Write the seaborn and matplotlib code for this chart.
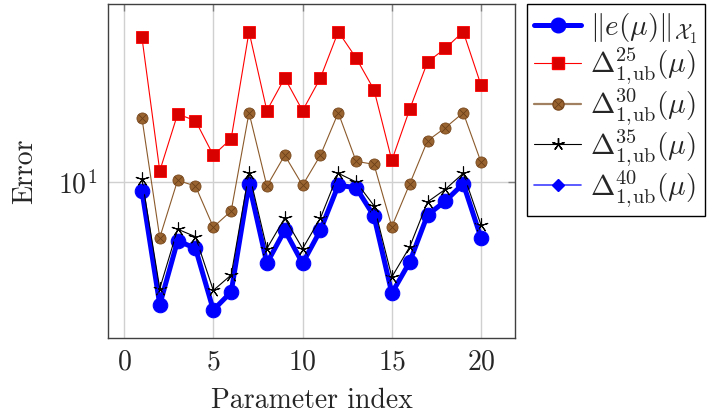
import numpy as np
import pandas as pd
import matplotlib
matplotlib.use("Agg")
import matplotlib.pyplot as plt
import seaborn as sns
from matplotlib.lines import Line2D
from matplotlib.ticker import NullLocator, FixedLocator

# ---------------- data ----------------
param_index = list(range(1, 21))
err_norm = [9.45, 4.52, 6.84, 6.51, 4.37, 4.91, 9.89, 5.91, 7.32, 5.91,
            7.32, 9.79, 9.64, 8.02, 4.87, 5.96, 8.08, 8.84, 9.89, 6.96]
delta_25 = [25.5, 10.74, 15.52, 14.87, 11.89, 13.23, 26.44, 15.86, 19.60, 15.86,
            19.60, 26.44, 22.30, 18.17, 11.50, 16.00, 21.73, 23.74, 26.44, 18.69]
delta_30 = [15.13, 6.98, 10.11, 9.74, 7.47, 8.29, 15.65, 9.74, 11.89, 9.79,
            11.89, 15.65, 11.43, 11.21, 7.49, 9.87, 13.06, 14.21, 15.65, 11.36]
delta_35 = [10.20, 5.02, 7.37, 7.02, 4.96, 5.48, 10.62, 6.50, 7.92, 6.50,
            7.92, 10.58, 10.00, 8.58, 5.41, 6.57, 8.79, 9.54, 10.58, 7.56]
delta_40 = [9.50, 4.54, 6.87, 6.54, 4.39, 4.93, 9.94, 5.94, 7.36, 5.94,
            7.36, 9.84, 9.69, 8.06, 4.89, 5.99, 8.12, 8.88, 9.94, 6.99]
x_ticks = [0, 5, 10, 15, 20]

labels = [r'$\|e(\mu)\|_{\mathcal{X}_1}$',
          r'$\Delta^{25}_{1,\!\mathrm{ub}}(\mu)$',
          r'$\Delta^{30}_{1,\!\mathrm{ub}}(\mu)$',
          r'$\Delta^{35}_{1,\!\mathrm{ub}}(\mu)$',
          r'$\Delta^{40}_{1,\!\mathrm{ub}}(\mu)$']

# ---------------- style ----------------
sns.set_style("white")
plt.rcParams['font.family'] = ['serif']
plt.rcParams['font.serif'] = ['cmr10', 'DejaVu Serif']
plt.rcParams['mathtext.fontset'] = 'cm'
plt.rcParams['axes.formatter.use_mathtext'] = True
plt.rcParams['axes.unicode_minus'] = False

fig = plt.figure(figsize=(7.12, 4.2), dpi=100)
ax = fig.add_axes([108/712, 1-338/420, (515-108)/712, (338-4)/420])

df = pd.DataFrame({'x': param_index, 'err': err_norm, 'd25': delta_25,
                   'd30': delta_30, 'd35': delta_35, 'd40': delta_40})

blue = '#0000FF'
red_line = '#FF0000'
red_fill = '#D90000'
brown_line = '#8B5A2B'
brown_fill = '#9A6430'

sns.lineplot(data=df, x='x', y='err', ax=ax, color=blue, lw=3.6,
             marker='o', markersize=10.5, markerfacecolor=blue,
             markeredgecolor=blue, zorder=3)
sns.lineplot(data=df, x='x', y='d25', ax=ax, color=red_line, lw=0.8,
             marker='s', markersize=8.5, markerfacecolor=red_fill,
             markeredgecolor=red_line, markeredgewidth=0.6, zorder=4)
sns.lineplot(data=df, x='x', y='d30', ax=ax, color=brown_line, lw=0.8,
             marker='o', markersize=8, markerfacecolor=brown_fill,
             markeredgecolor='#7A4A20', markeredgewidth=0.6, zorder=5)
ax.plot(param_index, delta_30, ls='none', marker='x', markersize=5.5,
        color='#6B4019', mew=0.6, zorder=6)
sns.lineplot(data=df, x='x', y='d35', ax=ax, color='black', lw=0.8,
             marker=(5, 2, 0), markersize=10, markeredgewidth=0.8,
             markeredgecolor='black', zorder=7)
sns.lineplot(data=df, x='x', y='d40', ax=ax, color=blue, lw=0.8,
             marker='D', markersize=5, markerfacecolor=blue,
             markeredgecolor=blue, zorder=8)

ax.set_yscale('log')
ax.set_xlim(-0.9, 21.9)
ax.set_ylim(10 ** (1 - 156/356), 10 ** (1 + 178/356))
ax.xaxis.set_major_locator(FixedLocator(x_ticks))
ax.yaxis.set_major_locator(FixedLocator([10]))
ax.yaxis.set_minor_locator(NullLocator())
ax.grid(True, color='#d0d0d0', lw=1.0, zorder=0)
ax.tick_params(direction='in', length=5, width=1, color='#808080',
               top=True, right=True, labelsize=20, pad=8)
for s in ax.spines.values():
    s.set_color('#404040')
    s.set_linewidth(1.0)
ax.set_xlabel('Parameter index', fontsize=20, labelpad=9)
ax.set_ylabel('Error', fontsize=20, labelpad=14)
if ax.get_legend() is not None:
    ax.get_legend().remove()

h_err = Line2D([], [], color=blue, lw=3.6, marker='o', markersize=10.5)
h25 = Line2D([], [], color=red_line, lw=0.8, marker='s', markersize=8.5,
             markerfacecolor=red_fill, markeredgecolor=red_line)
h30a = Line2D([], [], color='#A08060', lw=1.6, marker='o', markersize=8,
              markerfacecolor=brown_fill, markeredgecolor='#7A4A20')
h30b = Line2D([], [], ls='none', marker='x', markersize=5.5, color='#6B4019', mew=0.6)
h35 = Line2D([], [], color='black', lw=0.8, marker=(5, 2, 0), markersize=9)
h40 = Line2D([], [], color='#4040FF', lw=1.2, marker='D', markersize=6,
             markerfacecolor=blue, markeredgecolor=blue)

leg = fig.legend([h_err, h25, (h30a, h30b), h35, h40], labels,
                 loc='upper left', bbox_to_anchor=(527/712, 416/420),
                 bbox_transform=fig.transFigure, fontsize=21,
                 frameon=True, fancybox=False, edgecolor='black',
                 framealpha=1, handlelength=1.6, handletextpad=0.3,
                 labelspacing=0.0, borderpad=0.25, borderaxespad=0)
leg.get_frame().set_linewidth(1.0)

fig.savefig('out.png', dpi=100)
